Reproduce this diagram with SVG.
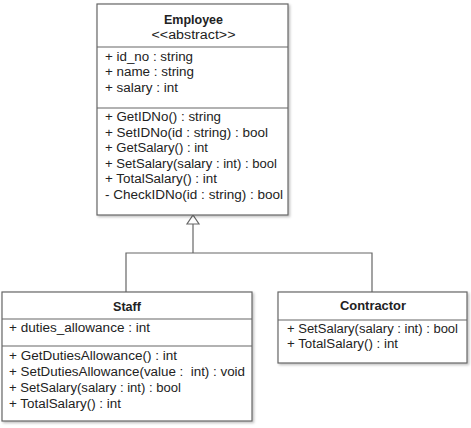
<svg xmlns="http://www.w3.org/2000/svg" width="471" height="428" viewBox="0 0 471 428">
<style>
.box{fill:#fff;stroke:#666;stroke-width:1.2}
.ln{stroke:#666;stroke-width:1.2;fill:none}
text{font-family:"Liberation Sans","Arial",sans-serif;font-size:12.5px;fill:#222}
.t{font-weight:bold;text-anchor:middle;font-size:13px}
.c{text-anchor:middle}
</style>
<defs>
<filter id="sh" x="-5%" y="-5%" width="115%" height="115%">
<feDropShadow dx="1.5" dy="1.5" stdDeviation="1" flood-color="#000" flood-opacity="0.25"/>
</filter>
</defs>
<rect width="471" height="428" fill="#fff"/>
<g id="connectors">
<polyline class="ln" points="126,292 126,253 372,253 372,292"/>
<line class="ln" x1="193" y1="224" x2="193" y2="253"/>
<polygon points="193,215 187,224 199,224" fill="#fff" stroke="#666" stroke-width="1.2"/>
</g>
<g id="employee">
<rect class="box" x="97" y="4" width="191" height="211" filter="url(#sh)"/>
<line class="ln" x1="97" y1="47" x2="288" y2="47"/>
<line class="ln" x1="97" y1="108" x2="288" y2="108"/>
<text class="t" x="193.5" y="24" textLength="59" lengthAdjust="spacingAndGlyphs">Employee</text>
<text class="c" x="193.5" y="39" textLength="84" lengthAdjust="spacingAndGlyphs">&lt;&lt;abstract&gt;&gt;</text>
<text x="105" y="61" textLength="88" lengthAdjust="spacingAndGlyphs">+ id_no : string</text>
<text x="105" y="76" textLength="89" lengthAdjust="spacingAndGlyphs">+ name : string</text>
<text x="105" y="92" textLength="73" lengthAdjust="spacingAndGlyphs">+ salary : int</text>
<text x="105" y="121" textLength="116" lengthAdjust="spacingAndGlyphs">+ GetIDNo() : string</text>
<text x="105" y="137" textLength="163" lengthAdjust="spacingAndGlyphs">+ SetIDNo(id : string) : bool</text>
<text x="105" y="152" textLength="103" lengthAdjust="spacingAndGlyphs">+ GetSalary() : int</text>
<text x="105" y="168" textLength="172" lengthAdjust="spacingAndGlyphs">+ SetSalary(salary : int) : bool</text>
<text x="105" y="183" textLength="112" lengthAdjust="spacingAndGlyphs">+ TotalSalary() : int</text>
<text x="105" y="198.5" textLength="178" lengthAdjust="spacingAndGlyphs">- CheckIDNo(id : string) : bool</text>
</g>
<g id="staff">
<rect class="box" x="2" y="292" width="250" height="129" filter="url(#sh)"/>
<line class="ln" x1="2" y1="319" x2="252" y2="319"/>
<line class="ln" x1="2" y1="346" x2="252" y2="346"/>
<text class="t" x="127" y="311" textLength="28" lengthAdjust="spacingAndGlyphs">Staff</text>
<text x="9" y="332" textLength="141" lengthAdjust="spacingAndGlyphs">+ duties_allowance : int</text>
<text x="9" y="360" textLength="168" lengthAdjust="spacingAndGlyphs">+ GetDutiesAllowance() : int</text>
<text x="9" y="376" textLength="236" lengthAdjust="spacingAndGlyphs" xml:space="preserve">+ SetDutiesAllowance(value :  int) : void</text>
<text x="9" y="392" textLength="172" lengthAdjust="spacingAndGlyphs">+ SetSalary(salary : int) : bool</text>
<text x="9" y="408" textLength="112" lengthAdjust="spacingAndGlyphs">+ TotalSalary() : int</text>
</g>
<g id="contractor">
<rect class="box" x="278" y="292" width="189" height="71" filter="url(#sh)"/>
<line class="ln" x1="278" y1="320" x2="467" y2="320"/>
<text class="t" x="373" y="310" textLength="66" lengthAdjust="spacingAndGlyphs">Contractor</text>
<text x="287" y="333" textLength="171" lengthAdjust="spacingAndGlyphs">+ SetSalary(salary : int) : bool</text>
<text x="287" y="348" textLength="111" lengthAdjust="spacingAndGlyphs">+ TotalSalary() : int</text>
</g>
</svg>
